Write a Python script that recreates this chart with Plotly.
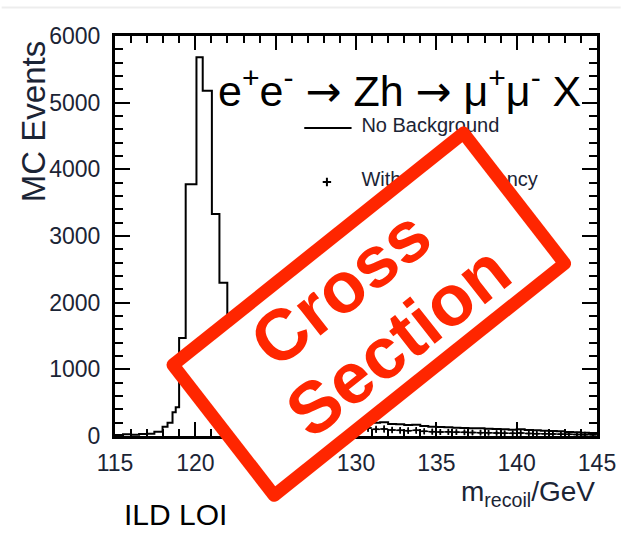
import math
import plotly.graph_objects as go

# ---- data -----------------------------------------------------------------
# recoil-mass histogram, "No Background" sample: bin edges (GeV) and counts
bin_edges = [115.0, 115.5, 116.0, 116.5, 117.0, 117.45, 117.96, 118.27, 118.58,
             118.78, 118.99, 119.4, 120.07, 120.46, 121.03, 121.5, 121.99,
             122.5, 123.0, 123.5, 124.0, 124.5, 125.0, 125.5, 126.0, 126.5,
             127.0, 127.5, 128.0, 128.5, 129.0, 129.5, 130.0, 130.5, 131.0,
             131.5, 132.0, 132.5, 133.0, 133.5, 134.0, 134.5, 135.0, 135.5,
             136.0, 136.5, 137.0, 137.5, 138.0, 138.5, 139.0, 139.5, 140.0,
             140.5, 141.0, 141.5, 142.0, 142.5, 143.0, 143.5, 144.0, 144.5,
             145.0]
counts = [15, 25, 20, 30, 35, 65, 140, 200, 356, 431, 1470, 3775, 5680, 5180,
          3330, 2300, 1450, 1000, 720, 560, 460, 400, 360, 330, 310, 290, 275,
          260, 250, 240, 230, 220, 210, 215, 200, 205, 180, 175, 165, 170, 150,
          140, 135, 130, 125, 120, 118, 115, 110, 105, 100, 95, 100, 90, 85, 80,
          75, 70, 60, 55, 50, 45]

# points of the second sample in the high-mass tail (bin centre, value, error)
eff_centres = [130.25, 130.75, 131.25, 131.75, 132.25, 132.75, 133.25, 133.75,
               134.25, 134.75, 135.25, 135.75, 136.25, 136.75, 137.25, 137.75,
               138.25, 138.75, 139.25, 139.75, 140.25, 140.75, 141.25, 141.75,
               142.25, 142.75, 143.25, 143.75, 144.25, 144.75]
eff_counts = [110, 120, 100, 105, 90, 85, 80, 85, 70, 65, 60, 62, 58, 55, 52,
              50, 48, 45, 42, 40, 45, 38, 35, 33, 30, 28, 25, 22, 20, 18]
eff_errors = [60, 60, 55, 55, 50, 50, 50, 50, 45, 45, 45, 45, 40, 40, 40, 40,
              40, 38, 38, 38, 60, 36, 35, 35, 34, 33, 32, 30, 30, 30]

x_tick_step, x_minor_step = 5, 1
y_tick_step, y_minor_step = 1000, 200

legend_labels = ["No Background", "With 90% Efficiency"]

# ---- canvas geometry --------------------------------------------------------
W, H = 628, 537
MARGIN = dict(l=115, r=24, t=36, b=101, pad=0)
PW = W - MARGIN["l"] - MARGIN["r"]
PH = H - MARGIN["t"] - MARGIN["b"]
X_RANGE = (115, 145)
Y_RANGE = (0, 6000)

INK = "#1b2435"
STAMP_RED = "#ff2600"
FONT = "Liberation Sans, Arial, sans-serif"


def paper(x, y):
    """pixel position on the page -> paper coordinates"""
    return (x - MARGIN["l"]) / PW, (H - MARGIN["b"] - y) / PH


def data(x, y):
    """pixel position on the page -> data coordinates"""
    px, py = paper(x, y)
    return (X_RANGE[0] + px * (X_RANGE[1] - X_RANGE[0]),
            Y_RANGE[0] + py * (Y_RANGE[1] - Y_RANGE[0]))


fig = go.Figure()

# histogram outline
fig.add_trace(go.Scatter(
    x=bin_edges, y=counts + [counts[-1]], mode="lines",
    line=dict(shape="hv", color="black", width=2),
    hoverinfo="skip", showlegend=False))

# tail points with error bars
half_bin = [0.25] * len(eff_centres)
fig.add_trace(go.Scatter(
    x=eff_centres, y=eff_counts, mode="markers",
    marker=dict(symbol="cross-thin", size=4, line=dict(width=1.5, color="black")),
    error_y=dict(type="data", array=eff_errors, color="black", thickness=1.5, width=0),
    error_x=dict(type="data", array=half_bin, color="black", thickness=1.5, width=0),
    hoverinfo="skip", showlegend=False))

# in-frame legend (drawn as traces so the stamp can cover it)
lx0, ly0 = data(307, 128)
lx1, _ = data(355, 128)
fig.add_trace(go.Scatter(x=[lx0, lx1], y=[ly0, ly0], mode="lines",
                         line=dict(color="black", width=2),
                         hoverinfo="skip", showlegend=False))
mx, my = data(330, 182)
fig.add_trace(go.Scatter(x=[mx], y=[my], mode="markers",
                         marker=dict(symbol="cross-thin", size=6,
                                     line=dict(width=2, color="black")),
                         hoverinfo="skip", showlegend=False))
tx, _ = data(365, 0)
_, ty0 = data(0, 127)
_, ty1 = data(0, 181)
fig.add_trace(go.Scatter(x=[tx, tx], y=[ty0, ty1], mode="text",
                         text=legend_labels, textposition="middle right",
                         textfont=dict(family=FONT, size=20, color=INK),
                         hoverinfo="skip", showlegend=False))

# ---- stamp -----------------------------------------------------------------
S_CX, S_CY = 372.5, 314.2
S_LONG, S_SHORT = 388, 179
S_BORDER = 13
S_ANGLE = math.radians(38.2)
E1 = (math.cos(S_ANGLE), -math.sin(S_ANGLE))
E2 = (math.sin(S_ANGLE), math.cos(S_ANGLE))


def stamp_point(u, v):
    return (S_CX + u * E1[0] + v * E2[0], S_CY + u * E1[1] + v * E2[1])


def path_from(points):
    pts = [paper(x, y) for x, y in points]
    return "M " + " L ".join(f"{x:.5f},{y:.5f}" for x, y in pts) + " Z"


def rounded_rect(length, width, radius, steps=6):
    hl, hw = length / 2 - radius, width / 2 - radius
    pts = []
    for cu, cv, a0 in [(hl, -hw, -90), (hl, hw, 0), (-hl, hw, 90), (-hl, -hw, 180)]:
        for k in range(steps + 1):
            a = math.radians(a0 + 90 * k / steps)
            pts.append(stamp_point(cu + radius * math.cos(a), cv + radius * math.sin(a)))
    return pts


inner_l = S_LONG - 2 * S_BORDER
inner_s = S_SHORT - 2 * S_BORDER
inner = [stamp_point(inner_l / 2, -inner_s / 2), stamp_point(inner_l / 2, inner_s / 2),
         stamp_point(-inner_l / 2, inner_s / 2), stamp_point(-inner_l / 2, -inner_s / 2)]

shapes = [
    # faint rule across the top of the page
    dict(type="line", xref="paper", yref="paper", layer="above",
         x0=paper(0, 7.5)[0], x1=paper(W, 7.5)[0], y0=paper(0, 7.5)[1], y1=paper(0, 7.5)[1],
         line=dict(color="#ededed", width=2)),
    dict(type="path", xref="paper", yref="paper", layer="above",
         path=path_from(rounded_rect(S_LONG, S_SHORT, S_BORDER / 2)),
         fillcolor=STAMP_RED, line=dict(width=0)),
    dict(type="path", xref="paper", yref="paper", layer="above",
         path=path_from(inner), fillcolor="white", line=dict(width=0)),
]

annotations = []


def note(text, x, y, size, color="black", xanchor="center", yanchor="middle",
         angle=0, weight="normal"):
    px, py = paper(x, y)
    annotations.append(dict(text=text, x=px, y=py, xref="paper", yref="paper",
                            xanchor=xanchor, yanchor=yanchor, showarrow=False,
                            textangle=angle,
                            font=dict(family=FONT, size=size, color=color, weight=weight)))


for word, (u, v) in [("Cross", (-6.5, -39)), ("Section", (6.5, 39))]:
    wx, wy = stamp_point(u, v)
    note(word, wx, wy, 72, color=STAMP_RED, angle=-38.2, weight="bold")

ARROW = '<span style="font-family:DejaVu Sans">→</span>'
note(f"e<sup>+</sup>e<sup>-</sup> {ARROW} Zh {ARROW} μ<sup>+</sup>μ<sup>-</sup> X",
     217, 88, 43, xanchor="left")
note("MC Events", 33, 122, 33, color=INK, angle=-90)
note("m<sub>recoil</sub>/GeV", 604, 493, 28, color=INK, xanchor="right")
note("ILD LOI", 176, 514, 30)

axis_common = dict(showgrid=False, zeroline=False, showline=True, linecolor="black",
                   linewidth=3, mirror="ticks", ticks="inside", tickcolor="black",
                   tickwidth=2, tickfont=dict(family=FONT, size=23, color=INK))

fig.update_layout(
    width=W, height=H, margin=MARGIN,
    paper_bgcolor="white", plot_bgcolor="white",
    showlegend=False,
    xaxis=dict(range=list(X_RANGE), tickmode="linear", tick0=X_RANGE[0],
               dtick=x_tick_step, ticklen=14, ticklabelstandoff=4,
               minor=dict(dtick=x_minor_step, ticklen=7, tickwidth=2, ticks="inside",
                          tickcolor="black"),
               **axis_common),
    yaxis=dict(range=list(Y_RANGE), tickmode="linear", tick0=0,
               dtick=y_tick_step, ticklen=15, ticklabelstandoff=7,
               minor=dict(dtick=y_minor_step, ticklen=8, tickwidth=2, ticks="inside",
                          tickcolor="black"),
               **axis_common),
    shapes=shapes,
    annotations=annotations,
)

fig.write_html("out.html")
